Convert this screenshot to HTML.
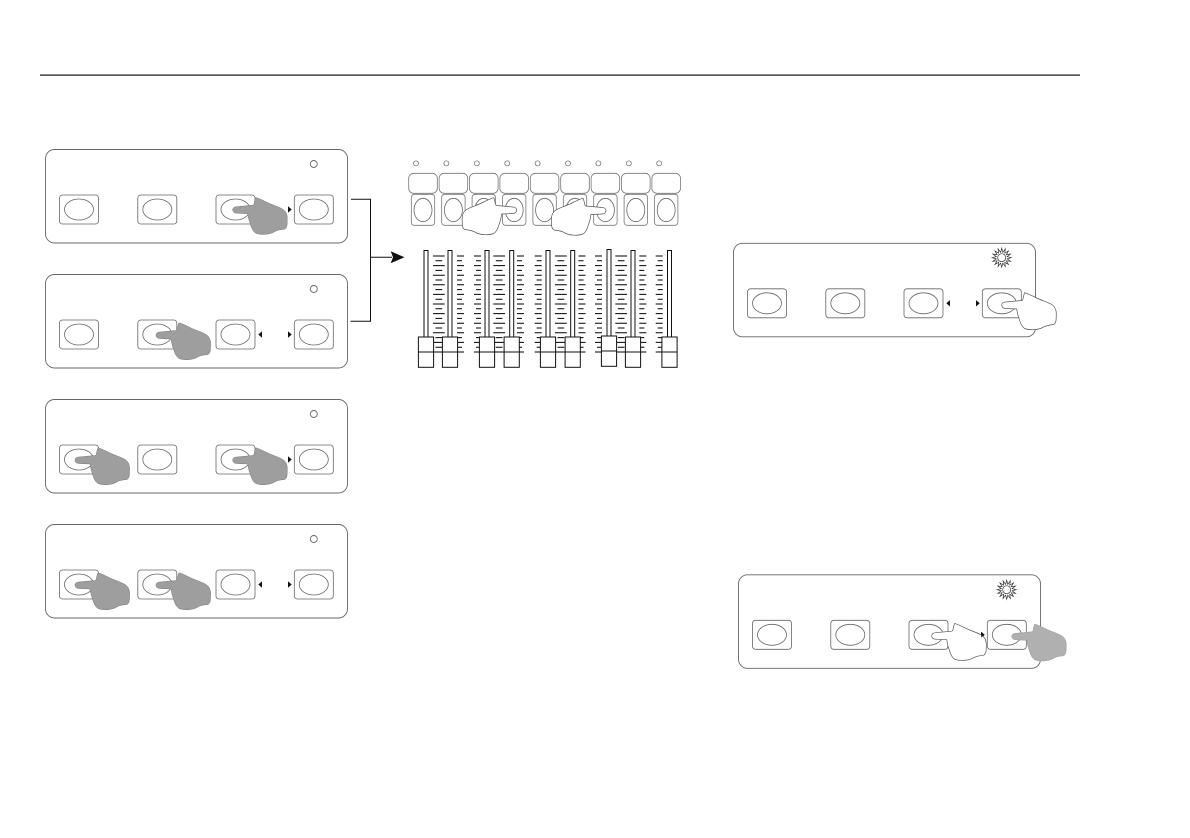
<!DOCTYPE html>
<html>
<head>
<meta charset="utf-8">
<style>
html,body{margin:0;padding:0;background:#fff;width:1190px;height:838px;overflow:hidden}
svg{display:block}
</style>
</head>
<body>
<svg width="1190" height="838" viewBox="0 0 1190 838" xmlns="http://www.w3.org/2000/svg">
<defs>
  <g id="btn">
    <rect x="-19.500" y="-14.500" width="39" height="29" rx="3" fill="#fff" stroke="#666" stroke-width=".8"/>
    <ellipse cx="0" cy="0" rx="14.500" ry="10.500" fill="#fff" stroke="#666" stroke-width=".8"/>
  </g>
  <g id="base">
    <use href="#btn" x="33.500" y="60"/>
    <use href="#btn" x="111.800" y="60"/>
    <use href="#btn" x="190" y="60"/>
    <use href="#btn" x="268.300" y="60"/>
    <path d="M216.500 56.800V63.200L212.800 60Z" fill="#111"/>
    <path d="M242.500 56.800V63.200L246.200 60Z" fill="#111"/>
  </g>
  <g id="panel">
    <rect x="0" y="0" width="302" height="93.500" rx="9" fill="#fff" stroke="#666" stroke-width=".9"/>
    <use href="#base"/>
  </g>
  <path id="hand" d="M0 0C0-2 2-3 4-3L20-4.500C22-5 21-8 23-12.300C27-11 31-9 34-7.500C40-4.500 46-3 50-.5C54 2 55 6 54.500 11C54.500 15 54.500 18 52 19.500C47 20 44 20.500 41 22.500C36 25 28 25.500 23 23.500C19 21 18 15 16.500 11C15.500 8 15.500 6 15 4L4 3.500C1.500 3.500 0 2 0 0Z"/>
  <g id="sun" fill="#fff" stroke="#333" stroke-width=".7">
    <polygon points="9.500,0 5.400,1.070 8.780,3.640 4.570,3.060 6.720,6.720 3.060,4.570 3.640,8.780 1.070,5.400 0,9.500 -1.070,5.400 -3.640,8.780 -3.060,4.570 -6.720,6.720 -4.570,3.060 -8.780,3.640 -5.400,1.070 -9.500,0 -5.400,-1.070 -8.780,-3.640 -4.570,-3.060 -6.720,-6.720 -3.060,-4.570 -3.640,-8.780 -1.070,-5.400 0,-9.500 1.070,-5.400 3.640,-8.780 3.060,-4.570 6.720,-6.720 4.570,-3.060 8.780,-3.640 5.400,-1.070"/>
    <circle r="4"/>
  </g>
  <path id="tw" fill="none" stroke="#000" stroke-width="1" d="M0 256h11.700M2.500 260.800h6.700M0 265.600h11.700M2.500 270.400h6.700M0 275.200h11.700M2.500 280h6.700M0 284.800h11.700M2.500 289.600h6.700M0 294.400h11.700M2.500 299.200h6.700M0 304h11.700M2.500 308.800h6.700M0 313.600h11.700M2.500 318.400h6.700M0 323.200h11.700M2.500 328h6.700M0 332.800h11.700M2.500 337.600h6.700M0 342.400h11.700M2.500 347.200h6.700M0 352h11.700"/>
  <path id="tr" fill="none" stroke="#000" stroke-width="1" d="M0 256h7M0 260.800h5M0 265.600h7M0 270.400h5M0 275.200h7M0 280h5M0 284.800h7M0 289.600h5M0 294.400h7M0 299.200h5M0 304h7M0 308.800h5M0 313.600h7M0 318.400h5M0 323.200h7M0 328h5M0 332.800h7M0 337.600h5M0 342.400h7M0 347.200h5M0 352h7"/>
  <path id="tl" fill="none" stroke="#000" stroke-width="1" d="M0 256h7M2 260.800h5M0 265.600h7M2 270.400h5M0 275.200h7M2 280h5M0 284.800h7M2 289.600h5M0 294.400h7M2 299.200h5M0 304h7M2 308.800h5M0 313.600h7M2 318.400h5M0 323.200h7M2 328h5M0 332.800h7M2 337.600h5M0 342.400h7M2 347.200h5M0 352h7"/>
  <g id="fader">
    <rect x="-2" y="250.500" width="4" height="86.500" fill="#fff" stroke="#111" stroke-width="1"/>
    <rect x="-7.600" y="337" width="15.200" height="30.300" fill="#fff" stroke="#111" stroke-width="1"/>
    <path d="M-7.600 352h15.200" stroke="#111" stroke-width="1"/>
  </g>
  <g id="strip">
    <rect x="-14.300" y="23.300" width="28.600" height="20" rx="5" fill="#fff" stroke="#777" stroke-width=".8"/>
    <rect x="-11.700" y="44.300" width="23.400" height="31" rx="3" fill="#fff" stroke="#777" stroke-width=".8"/>
    <ellipse cx="0" cy="60" rx="9" ry="11.700" fill="#fff" stroke="#666" stroke-width=".8"/>
    <circle cx="-7" cy="13.300" r="2.500" fill="#fff" stroke="#666" stroke-width=".7"/>
  </g>
</defs>

<rect x="40" y="74.500" width="1040" height="1.200" fill="#111"/>

<g transform="translate(45.500 149.500)"><use href="#panel"/><circle cx="268.300" cy="14.500" r="3.500" fill="#fff" stroke="#666" stroke-width=".9"/></g>
<use href="#hand" transform="translate(232.700 209.700)" fill="#9e9e9e" stroke="#777" stroke-width=".5"/>

<g transform="translate(45.500 274.500)"><use href="#panel"/><circle cx="268.300" cy="14.500" r="3.500" fill="#fff" stroke="#666" stroke-width=".9"/></g>
<use href="#hand" transform="translate(156 335)" fill="#9e9e9e" stroke="#777" stroke-width=".5"/>

<g transform="translate(45.500 399.500)"><use href="#panel"/><circle cx="268.300" cy="14.500" r="3.500" fill="#fff" stroke="#666" stroke-width=".9"/></g>
<use href="#hand" transform="translate(75 460)" fill="#9e9e9e" stroke="#777" stroke-width=".5"/>
<use href="#hand" transform="translate(232.700 460)" fill="#9e9e9e" stroke="#777" stroke-width=".5"/>

<g transform="translate(45.500 524.500)"><use href="#panel"/><circle cx="268.300" cy="14.500" r="3.500" fill="#fff" stroke="#666" stroke-width=".9"/></g>
<use href="#hand" transform="translate(75 585)" fill="#9e9e9e" stroke="#777" stroke-width=".5"/>
<use href="#hand" transform="translate(156 585)" fill="#9e9e9e" stroke="#777" stroke-width=".5"/>

<path d="M351 199.300H370.500V321.300H350.500M370.500 257.300H392" fill="none" stroke="#111" stroke-width="1"/>
<path d="M390.700 251.300L404.500 257.300L390.700 263.300L393 257.300Z" fill="#111"/>

<g transform="translate(423 150)"><use href="#strip"/></g>
<g transform="translate(453.400 150)"><use href="#strip"/></g>
<g transform="translate(483.800 150)"><use href="#strip"/></g>
<g transform="translate(514.200 150)"><use href="#strip"/></g>
<g transform="translate(544.600 150)"><use href="#strip"/></g>
<g transform="translate(575 150)"><use href="#strip"/></g>
<g transform="translate(605.400 150)"><use href="#strip"/></g>
<g transform="translate(635.800 150)"><use href="#strip"/></g>
<g transform="translate(666.200 150)"><use href="#strip"/></g>
<use href="#hand" transform="translate(516.700 210) scale(-1 1)" fill="#fff" stroke="#555" stroke-width=".7"/>
<use href="#hand" transform="translate(606 210.500) scale(-1 1)" fill="#fff" stroke="#555" stroke-width=".7"/>

<use href="#tw" x="433"/>
<use href="#tr" x="457"/>
<use href="#tl" x="474"/>
<use href="#tw" x="493.300"/>
<use href="#tr" x="517"/>
<use href="#tl" x="534.700"/>
<use href="#tw" x="555"/>
<use href="#tr" x="578.500"/>
<use href="#tl" x="595"/>
<use href="#tw" x="615.300"/>
<use href="#tr" x="639.300"/>
<use href="#tl" x="655.700"/>

<use href="#fader" x="426"/>
<use href="#fader" x="450"/>
<use href="#fader" x="487"/>
<use href="#fader" x="511.700"/>
<use href="#fader" x="548"/>
<use href="#fader" x="572.700"/>
<use href="#fader" transform="translate(609 -1)"/>
<use href="#fader" x="633"/>
<use href="#fader" x="669.500"/>

<g transform="translate(733.500 243.300)"><use href="#panel"/></g>
<use href="#sun" x="1001.700" y="257.700"/>
<use href="#hand" transform="translate(1001.700 305)" fill="#fff" stroke="#555" stroke-width=".7"/>

<g transform="translate(738.500 574.800)"><use href="#panel"/></g>
<use href="#sun" x="1006.700" y="589.700"/>
<use href="#hand" transform="translate(931.700 635.700)" fill="#fff" stroke="#555" stroke-width=".7"/>
<path d="M981.300 632V637.500L984.500 634.700Z" fill="#111"/>
<use href="#hand" transform="translate(1011.700 636.300)" fill="#b0b0b0" stroke="#999" stroke-width=".5"/>
</svg>
</body>
</html>
